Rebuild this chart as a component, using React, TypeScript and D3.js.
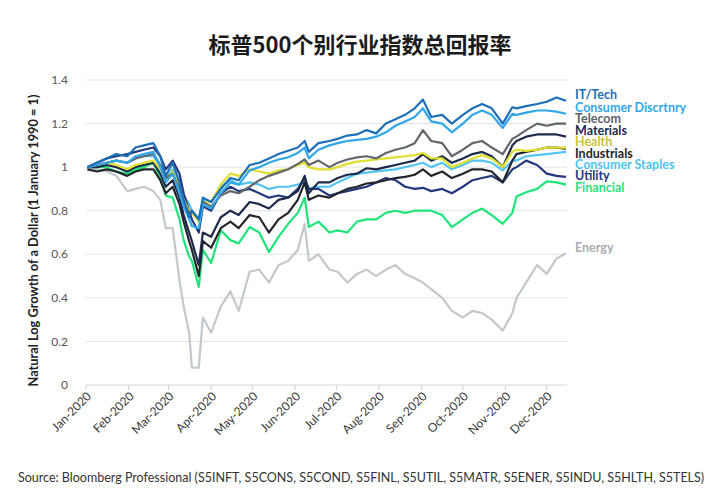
import React from "react";
import * as d3 from "d3";

// weekly sample dates (plus a few extra around the March crash and key swings)
const DATES = [
  "2020-01-02", "2020-01-09", "2020-01-16", "2020-01-23", "2020-01-31",
  "2020-02-06", "2020-02-12", "2020-02-19", "2020-02-24", "2020-02-28",
  "2020-03-04", "2020-03-09", "2020-03-12", "2020-03-16", "2020-03-18",
  "2020-03-23", "2020-03-26", "2020-04-01", "2020-04-08", "2020-04-15",
  "2020-04-21", "2020-04-29", "2020-05-06", "2020-05-13", "2020-05-20",
  "2020-05-27", "2020-06-03", "2020-06-08", "2020-06-11", "2020-06-18",
  "2020-06-26", "2020-07-02", "2020-07-09", "2020-07-16", "2020-07-23",
  "2020-07-30", "2020-08-06", "2020-08-13", "2020-08-20", "2020-08-27",
  "2020-09-02", "2020-09-08", "2020-09-16", "2020-09-23", "2020-10-01",
  "2020-10-08", "2020-10-15", "2020-10-22", "2020-10-30", "2020-11-06",
  "2020-11-09", "2020-11-16", "2020-11-24", "2020-12-01", "2020-12-08",
  "2020-12-15",
];

const IT_TECH = [1.00, 1.02, 1.04, 1.06, 1.05, 1.09, 1.10, 1.11, 1.05, 0.96, 1.02, 0.93, 0.85, 0.77, 0.80, 0.76, 0.86, 0.84, 0.90, 0.95, 0.94, 1.01, 1.02, 1.04, 1.06, 1.075, 1.09, 1.12, 1.07, 1.11, 1.12, 1.13, 1.145, 1.15, 1.17, 1.155, 1.20, 1.22, 1.24, 1.27, 1.31, 1.23, 1.24, 1.20, 1.24, 1.27, 1.29, 1.27, 1.20, 1.275, 1.27, 1.28, 1.29, 1.30, 1.32, 1.305];
const CONS_DISC = [1.00, 1.01, 1.02, 1.03, 1.02, 1.05, 1.06, 1.07, 1.00, 0.93, 0.97, 0.88, 0.82, 0.76, 0.73, 0.72, 0.83, 0.81, 0.88, 0.93, 0.92, 0.985, 1.00, 1.02, 1.035, 1.045, 1.065, 1.09, 1.04, 1.08, 1.10, 1.11, 1.12, 1.125, 1.13, 1.14, 1.16, 1.19, 1.21, 1.23, 1.27, 1.21, 1.20, 1.16, 1.20, 1.24, 1.26, 1.24, 1.18, 1.245, 1.24, 1.25, 1.26, 1.26, 1.255, 1.245];
const TELECOM = [1.00, 1.01, 1.02, 1.03, 1.02, 1.04, 1.05, 1.06, 1.01, 0.95, 0.97, 0.90, 0.84, 0.79, 0.80, 0.76, 0.84, 0.82, 0.87, 0.89, 0.88, 0.91, 0.94, 0.96, 0.975, 0.99, 1.015, 1.035, 1.01, 1.03, 1.00, 1.02, 1.035, 1.045, 1.05, 1.04, 1.065, 1.08, 1.09, 1.11, 1.17, 1.12, 1.11, 1.05, 1.08, 1.11, 1.12, 1.09, 1.06, 1.13, 1.14, 1.17, 1.20, 1.19, 1.20, 1.20];
const MATERIALS = [1.00, 1.00, 1.01, 1.00, 0.98, 1.00, 1.01, 1.02, 0.97, 0.91, 0.94, 0.86, 0.78, 0.70, 0.66, 0.55, 0.70, 0.68, 0.77, 0.80, 0.78, 0.84, 0.83, 0.81, 0.85, 0.86, 0.89, 0.96, 0.88, 0.93, 0.93, 0.95, 0.965, 0.97, 0.995, 0.99, 1.00, 1.01, 1.02, 1.03, 1.06, 1.03, 1.05, 1.02, 1.04, 1.06, 1.07, 1.05, 1.00, 1.10, 1.12, 1.14, 1.15, 1.15, 1.15, 1.14];
const HEALTH = [1.00, 1.01, 1.02, 1.01, 0.99, 1.01, 1.02, 1.03, 0.99, 0.94, 0.98, 0.91, 0.85, 0.80, 0.79, 0.75, 0.84, 0.84, 0.92, 0.97, 0.96, 0.99, 0.98, 0.97, 0.985, 0.99, 1.01, 1.02, 1.00, 0.99, 0.99, 1.00, 1.015, 1.025, 1.03, 1.035, 1.04, 1.045, 1.05, 1.055, 1.065, 1.04, 1.04, 1.00, 1.02, 1.04, 1.055, 1.04, 1.00, 1.07, 1.08, 1.075, 1.08, 1.09, 1.09, 1.09];
const INDUSTRIALS = [0.99, 0.98, 0.99, 0.98, 0.96, 0.98, 0.99, 0.99, 0.94, 0.88, 0.91, 0.83, 0.75, 0.66, 0.62, 0.50, 0.66, 0.63, 0.72, 0.75, 0.72, 0.78, 0.77, 0.70, 0.76, 0.79, 0.85, 0.93, 0.85, 0.87, 0.86, 0.88, 0.90, 0.91, 0.925, 0.93, 0.94, 0.95, 0.955, 0.965, 0.99, 0.96, 0.98, 0.95, 0.97, 0.99, 0.99, 0.98, 0.93, 1.03, 1.06, 1.07, 1.08, 1.09, 1.09, 1.085];
const CONS_STAPLES = [1.00, 1.01, 1.02, 1.03, 1.02, 1.04, 1.05, 1.05, 1.01, 0.95, 0.99, 0.93, 0.87, 0.83, 0.80, 0.76, 0.85, 0.84, 0.91, 0.94, 0.92, 0.93, 0.92, 0.90, 0.91, 0.91, 0.92, 0.93, 0.90, 0.91, 0.91, 0.93, 0.95, 0.97, 0.975, 0.98, 0.985, 0.99, 1.00, 1.01, 1.02, 1.00, 1.02, 0.99, 1.01, 1.03, 1.03, 1.02, 0.985, 1.03, 1.03, 1.05, 1.055, 1.06, 1.065, 1.07];
const UTILITY = [1.00, 1.02, 1.04, 1.05, 1.06, 1.07, 1.08, 1.09, 1.05, 0.99, 1.03, 0.97, 0.88, 0.80, 0.76, 0.70, 0.82, 0.80, 0.88, 0.91, 0.89, 0.90, 0.88, 0.86, 0.87, 0.86, 0.90, 0.95, 0.90, 0.90, 0.87, 0.88, 0.89, 0.90, 0.91, 0.93, 0.95, 0.94, 0.91, 0.90, 0.905, 0.89, 0.90, 0.88, 0.91, 0.94, 0.95, 0.96, 0.93, 0.99, 1.00, 1.03, 1.01, 0.97, 0.96, 0.955];
const FINANCIAL = [1.00, 1.00, 1.00, 0.98, 0.97, 0.99, 1.00, 1.02, 0.95, 0.87, 0.86, 0.76, 0.665, 0.59, 0.57, 0.45, 0.62, 0.56, 0.71, 0.665, 0.65, 0.725, 0.70, 0.61, 0.68, 0.74, 0.79, 0.86, 0.725, 0.75, 0.70, 0.71, 0.70, 0.75, 0.76, 0.76, 0.79, 0.80, 0.79, 0.80, 0.80, 0.80, 0.78, 0.725, 0.76, 0.79, 0.81, 0.78, 0.74, 0.79, 0.865, 0.885, 0.90, 0.935, 0.93, 0.92];
const ENERGY = [1.00, 0.99, 0.98, 0.96, 0.89, 0.90, 0.91, 0.89, 0.85, 0.72, 0.72, 0.48, 0.36, 0.24, 0.08, 0.08, 0.31, 0.24, 0.36, 0.43, 0.34, 0.52, 0.53, 0.47, 0.55, 0.57, 0.62, 0.74, 0.57, 0.60, 0.53, 0.52, 0.47, 0.51, 0.53, 0.50, 0.53, 0.55, 0.51, 0.49, 0.47, 0.44, 0.40, 0.34, 0.31, 0.34, 0.33, 0.30, 0.25, 0.33, 0.40, 0.47, 0.55, 0.51, 0.58, 0.605];

const Y_TICKS = [0, 0.2, 0.4, 0.6, 0.8, 1, 1.2, 1.4];

const TITLE = "标普500个别行业指数总回报率";
const Y_TITLE = "Natural Log Growth of a Dollar (1 January 1990 = 1)";
const SOURCE =
  "Source: Bloomberg Professional (S5INFT, S5CONS, S5COND, S5FINL, S5UTIL, S5MATR, S5ENER, S5INDU, S5HLTH, S5TELS)";

// drawn bottom to top
const SERIES = [
  { name: "Energy", values: ENERGY, line: "#c3c8cd", text: "#a9aeb4" },
  { name: "Financial", values: FINANCIAL, line: "#1fe47a", text: "#1fe47a" },
  { name: "Consumer Staples", values: CONS_STAPLES, line: "#52c4f4", text: "#4fc2f4" },
  { name: "Utility", values: UTILITY, line: "#24397d", text: "#24397d" },
  { name: "Industrials", values: INDUSTRIALS, line: "#23262c", text: "#23262c" },
  { name: "Materials", values: MATERIALS, line: "#1c2b4b", text: "#1c2b4b" },
  { name: "Health", values: HEALTH, line: "#e0df2e", text: "#cbc335" },
  { name: "Telecom", values: TELECOM, line: "#62676e", text: "#5c6168" },
  { name: "Consumer Discrtnry", values: CONS_DISC, line: "#31a7eb", text: "#31a7eb" },
  { name: "IT/Tech", values: IT_TECH, line: "#1d6fb8", text: "#1d6fb8" },
];

const W = 720;
const H = 500;
const FONT = "Lato, 'Noto Sans', sans-serif";

export default function App() {
  const parse = d3.timeParse("%Y-%m-%d");
  const dates = DATES.map((d) => parse(d) as Date);

  const x = d3
    .scaleTime()
    .domain([new Date(2020, 0, 1), new Date(2020, 11, 15)])
    .range([86, 566]);
  const y = d3.scaleLinear().domain([0, 1.4]).range([385, 80]);

  const months = d3.timeMonth.range(new Date(2020, 0, 1), new Date(2020, 11, 2));
  const fmt = d3.timeFormat("%b-%Y");

  const line = d3
    .line<number>()
    .x((_, i) => x(dates[i]))
    .y((v) => y(v));

  // end labels, pushed apart so they don't overlap
  const last = dates.length - 1;
  const labels = SERIES.map((s) => ({ ...s, pos: y(s.values[last]) - 6 })).sort(
    (a, b) => a.pos - b.pos
  );
  for (let i = 1; i < labels.length; i++) {
    const gap = 11.3;
    if (labels[i].pos < labels[i - 1].pos + gap) labels[i].pos = labels[i - 1].pos + gap;
  }

  const [x0, x1] = x.range();

  return (
    <svg
      width={W}
      height={H}
      style={{ position: "absolute", left: 0, top: 0, background: "#fff" }}
      fontFamily={FONT}
    >
      <text
        x={W / 2}
        y={53}
        textAnchor="middle"
        fontSize={22}
        fontWeight="bold"
        fill="#1b1b1b"
        fontFamily="'Noto Sans CJK SC', sans-serif"
      >
        {TITLE}
      </text>

      {/* grid + y ticks */}
      {Y_TICKS.map((t) => (
        <g key={t}>
          <line x1={x0} x2={x1 + 1} y1={y(t)} y2={y(t)} stroke={t === 0 ? "#d6d6d6" : "#e3e3e3"} />
          <text x={68} y={y(t)} dy="0.35em" textAnchor="end" fontSize={12} fill="#555">
            {t}
          </text>
        </g>
      ))}

      <text
        transform={`translate(38,${(y(0) + y(1.4)) / 2 + 8}) rotate(-90)`}
        textAnchor="middle"
        fontSize={12.8}
        fontWeight="bold"
        fill="#222"
      >
        {Y_TITLE}
      </text>

      {/* x ticks */}
      {months.map((m) => (
        <g key={m.getTime()}>
          <line x1={x(m)} x2={x(m)} y1={y(0)} y2={y(0) + 5} stroke="#cfcfcf" />
          <text
            transform={`translate(${x(m) + 6},${y(0) + 12}) rotate(-45)`}
            textAnchor="end"
            fontSize={12}
            fill="#3a3a3a"
          >
            {fmt(m)}
          </text>
        </g>
      ))}

      {/* series */}
      {SERIES.map((s) => (
        <path
          key={s.name}
          d={line(s.values) || ""}
          fill="none"
          stroke={s.line}
          strokeWidth={2.2}
          strokeLinejoin="round"
        />
      ))}

      {labels.map((l) => (
        <text
          key={l.name}
          x={575}
          y={l.pos}
          dy="0.35em"
          fontSize={12.5}
          fontWeight="bold"
          fill={l.text}
        >
          {l.name}
        </text>
      ))}

      <text x={18} y={482} fontSize={12.5} fill="#333">
        {SOURCE}
      </text>
    </svg>
  );
}
